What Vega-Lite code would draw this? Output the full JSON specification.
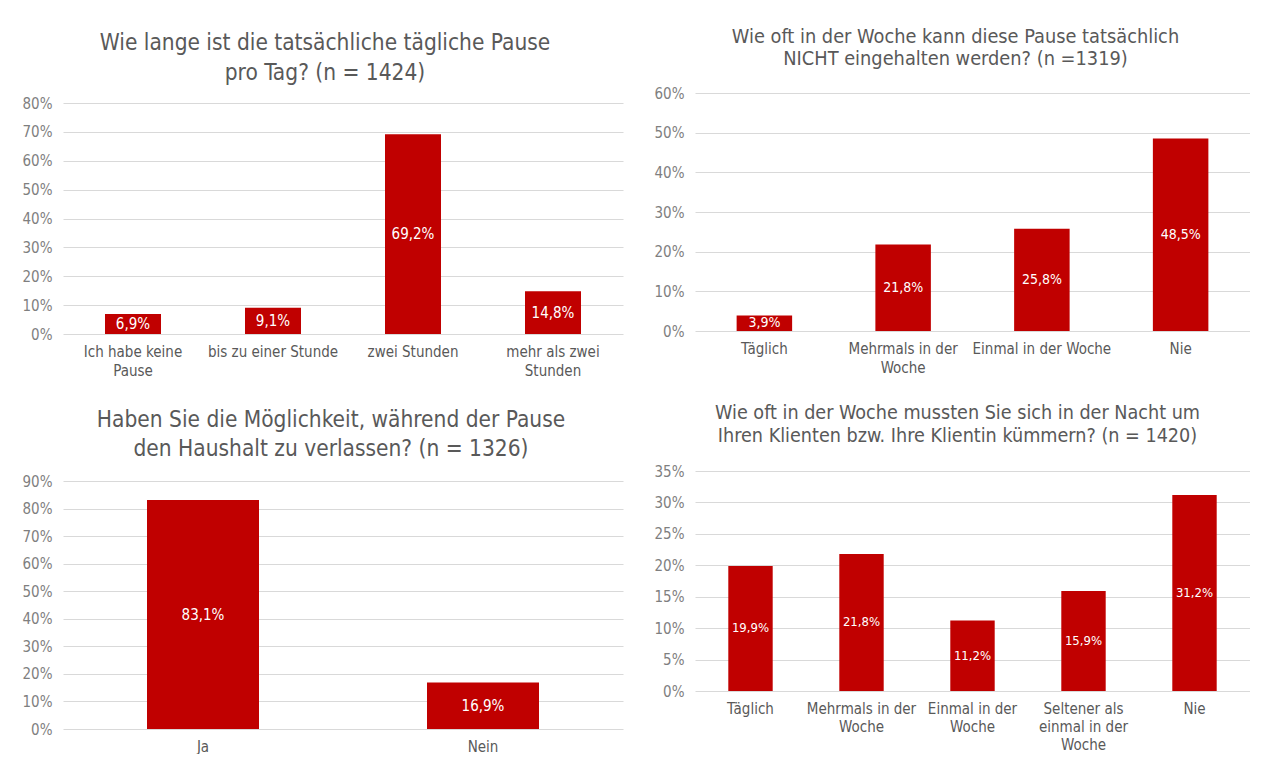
{
  "$schema": "https://vega.github.io/schema/vega-lite/v6.json",
  "background": "white",
  "padding": {"left": 13, "top": 27, "right": 0, "bottom": 0},
  "config": {
    "locale": {"number": {"decimal": ",", "thousands": ".", "grouping": [3], "currency": ["", " €"]}},
    "font": "DejaVu Sans Condensed, sans-serif",
    "view": {"stroke": null},
    "title": {"color": "#595959", "fontWeight": "normal", "anchor": "middle", "font": "DejaVu Sans Condensed, sans-serif"},
    "axis": {"labelColor": "#595959", "labelFontSize": 15, "ticks": false, "domain": false, "gridColor": "#d9d9d9", "gridWidth": 1, "labelFont": "DejaVu Sans Condensed, sans-serif"},
    "axisX": {"grid": false, "labelPadding": 10, "labelLineHeight": 19, "labelAngle": 0, "labelBaseline": "top"},
    "axisY": {"labelPadding": 11, "minExtent": 50, "maxExtent": 50, "labelColor": "#7f7f7f"}
  },
  "columns": 2,
  "align": "each",
  "spacing": {"column": 22, "row": 25},
  "concat": [
    {
      "width": 560, "height": 241,
      "title": {"text": ["Wie lange ist die tatsächliche tägliche Pause", "pro Tag? (n = 1424)"], "fontSize": 22.5, "lineHeight": 30, "dx": -18, "offset": 9},
      "data": {"values": [
        {"cat": "Ich habe keine Pause", "value": 0.069},
        {"cat": "bis zu einer Stunde", "value": 0.091},
        {"cat": "zwei Stunden", "value": 0.692},
        {"cat": "mehr als zwei Stunden", "value": 0.148}
      ]},
      "transform": [{"calculate": "datum.value/2", "as": "mid"}],
      "encoding": {"x": {"field": "cat", "type": "nominal", "sort": null, "title": null, "scale": {"paddingInner": 0.6, "paddingOuter": 0.3}, "axis": {"labelExpr": "datum.value == 'Ich habe keine Pause' ? ['Ich habe keine', 'Pause'] : datum.value == 'mehr als zwei Stunden' ? ['mehr als zwei', 'Stunden'] : datum.value"}}},
      "layer": [
        {"mark": {"type": "bar", "color": "#C00000"}, "encoding": {"y": {"field": "value", "type": "quantitative", "title": null, "scale": {"domain": [0, 0.8], "range": [241, 10]}, "axis": {"values": [0, 0.1, 0.2, 0.3, 0.4, 0.5, 0.6, 0.7, 0.8], "format": ".0%"}}}},
        {"mark": {"type": "text", "color": "white", "fontSize": 15}, "encoding": {"y": {"field": "mid", "type": "quantitative", "title": null, "axis": {"values": [0, 0.1, 0.2, 0.3, 0.4, 0.5, 0.6, 0.7, 0.8], "format": ".0%"}}, "text": {"field": "value", "format": ".1%"}}}
      ]
    },
    {
      "width": 555, "height": 238,
      "title": {"text": ["Wie oft in der Woche kann diese Pause tatsächlich", "NICHT eingehalten werden? (n =1319)"], "fontSize": 19.8, "lineHeight": 22, "dx": -17, "offset": 17},
      "data": {"values": [
        {"cat": "Täglich", "value": 0.039},
        {"cat": "Mehrmals in der Woche", "value": 0.218},
        {"cat": "Einmal in der Woche", "value": 0.258},
        {"cat": "Nie", "value": 0.485}
      ]},
      "transform": [{"calculate": "datum.value/2", "as": "mid"}],
      "encoding": {"x": {"field": "cat", "type": "nominal", "sort": null, "title": null, "scale": {"paddingInner": 0.6, "paddingOuter": 0.3}, "axis": {"labelExpr": "datum.value == 'Mehrmals in der Woche' ? ['Mehrmals in der', 'Woche'] : datum.value"}}},
      "layer": [
        {"mark": {"type": "bar", "color": "#C00000"}, "encoding": {"y": {"field": "value", "type": "quantitative", "title": null, "scale": {"domain": [0, 0.6]}, "axis": {"values": [0, 0.1, 0.2, 0.3, 0.4, 0.5, 0.6], "format": ".0%"}}}},
        {"mark": {"type": "text", "color": "white", "fontSize": 14}, "encoding": {"y": {"field": "mid", "type": "quantitative", "title": null, "axis": {"values": [0, 0.1, 0.2, 0.3, 0.4, 0.5, 0.6], "format": ".0%"}}, "text": {"field": "value", "format": ".1%"}}}
      ]
    },
    {
      "width": 560, "height": 258,
      "title": {"text": ["Haben Sie die Möglichkeit, während der Pause", "den Haushalt zu verlassen? (n = 1326)"], "fontSize": 22.5, "lineHeight": 29, "dx": -12, "offset": 11},
      "data": {"values": [
        {"cat": "Ja", "value": 0.831},
        {"cat": "Nein", "value": 0.169}
      ]},
      "transform": [{"calculate": "datum.value/2", "as": "mid"}],
      "encoding": {"x": {"field": "cat", "type": "nominal", "sort": null, "title": null, "scale": {"paddingInner": 0.6, "paddingOuter": 0.3}}},
      "layer": [
        {"mark": {"type": "bar", "color": "#C00000"}, "encoding": {"y": {"field": "value", "type": "quantitative", "title": null, "scale": {"domain": [0, 0.9], "range": [258, 10]}, "axis": {"values": [0, 0.1, 0.2, 0.3, 0.4, 0.5, 0.6, 0.7, 0.8, 0.9], "format": ".0%"}}}},
        {"mark": {"type": "text", "color": "white", "fontSize": 15}, "encoding": {"y": {"field": "mid", "type": "quantitative", "title": null, "axis": {"values": [0, 0.1, 0.2, 0.3, 0.4, 0.5, 0.6, 0.7, 0.8, 0.9], "format": ".0%"}}, "text": {"field": "value", "format": ".1%"}}}
      ]
    },
    {
      "width": 555, "height": 220,
      "title": {"text": ["Wie oft in der Woche mussten Sie sich in der Nacht um", "Ihren Klienten bzw. Ihre Klientin kümmern? (n = 1420)"], "fontSize": 19.6, "lineHeight": 23, "dx": -15, "offset": 17},
      "data": {"values": [
        {"cat": "Täglich", "value": 0.199},
        {"cat": "Mehrmals in der Woche", "value": 0.218},
        {"cat": "Einmal in der Woche", "value": 0.112},
        {"cat": "Seltener als einmal in der Woche", "value": 0.159},
        {"cat": "Nie", "value": 0.312}
      ]},
      "transform": [{"calculate": "datum.value/2", "as": "mid"}],
      "encoding": {"x": {"field": "cat", "type": "nominal", "sort": null, "title": null, "scale": {"paddingInner": 0.6, "paddingOuter": 0.3}, "axis": {"labelLineHeight": 18, "labelExpr": "datum.value == 'Mehrmals in der Woche' ? ['Mehrmals in der', 'Woche'] : datum.value == 'Einmal in der Woche' ? ['Einmal in der', 'Woche'] : datum.value == 'Seltener als einmal in der Woche' ? ['Seltener als', 'einmal in der', 'Woche'] : datum.value"}}},
      "layer": [
        {"mark": {"type": "bar", "color": "#C00000"}, "encoding": {"y": {"field": "value", "type": "quantitative", "title": null, "scale": {"domain": [0, 0.35]}, "axis": {"values": [0, 0.05, 0.1, 0.15, 0.2, 0.25, 0.3, 0.35], "format": ".0%"}}}},
        {"mark": {"type": "text", "color": "white", "fontSize": 13}, "encoding": {"y": {"field": "mid", "type": "quantitative", "title": null, "axis": {"values": [0, 0.05, 0.1, 0.15, 0.2, 0.25, 0.3, 0.35], "format": ".0%"}}, "text": {"field": "value", "format": ".1%"}}}
      ]
    }
  ]
}
